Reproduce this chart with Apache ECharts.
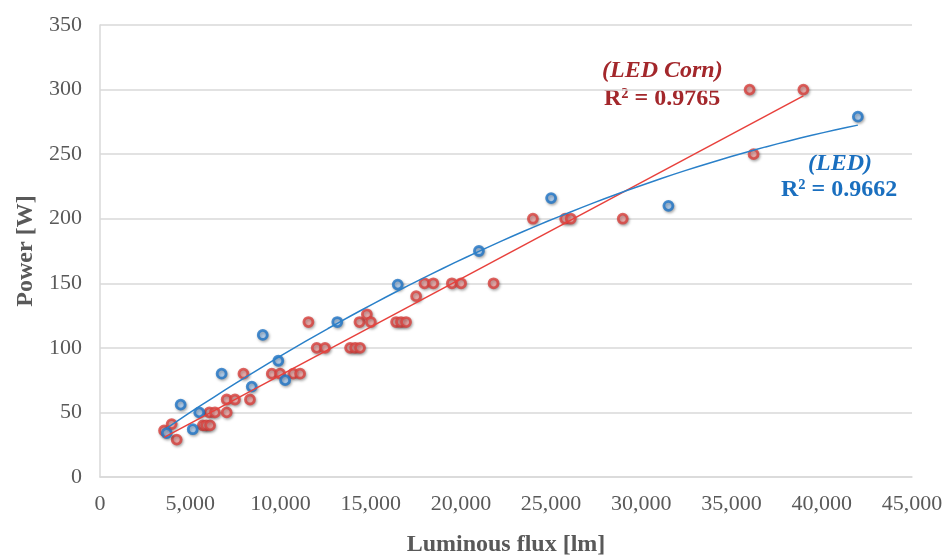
<!DOCTYPE html>
<html>
<head>
<meta charset="utf-8">
<title>Power vs Luminous flux</title>
<script src="https://cdn.jsdelivr.net/npm/echarts@6/dist/echarts.min.js"></script>
<style>
  html, body { margin: 0; padding: 0; background: #ffffff; }
  #chart { width: 950px; height: 557px; }
</style>
</head>
<body>
<div id="chart"></div>
<script>
// LED Corn lamps: luminous flux [lm] and power [W]
var cornFlux = [3550, 3970, 4250, 5700, 5880, 6100, 6060, 6370, 7020, 7020, 7480, 8310,
  7950, 9520, 9980, 10710, 11090, 11550, 12010, 12470, 13860, 14140, 14410,
  14380, 14790, 15010, 16410, 16680, 16960, 17520, 17980, 18470, 19500, 20010,
  21810, 23990, 25780, 26090, 28970, 36000, 36220, 38980];
var cornPower = [36, 41, 29, 40, 40, 40, 50, 50, 50, 60, 60, 60,
  80, 80, 80, 80, 80, 120, 100, 100, 100, 100, 100,
  120, 126, 120, 120, 120, 120, 140, 150, 150, 150, 150,
  150, 200, 200, 200, 200, 300, 250, 300];

// LED lamps: luminous flux [lm] and power [W]
var ledFlux = [3700, 4470, 5140, 5500, 6740, 8410, 9020, 9880, 10260, 13150, 16500, 21000, 25000, 31500, 42000];
var ledPower = [34, 56, 37, 50, 80, 70, 110, 90, 75, 120, 149, 175, 216, 210, 279];

// Axis ticks
var xTicks = [0, 5000, 10000, 15000, 20000, 25000, 30000, 35000, 40000, 45000];
var yTicks = [0, 50, 100, 150, 200, 250, 300, 350];

// Trendline labels
var cornLabel = '(LED Corn)';
var cornR2 = 'R² = 0.9765';
var ledLabel = '(LED)';
var ledR2 = 'R² = 0.9662';

// Least-squares polynomial fit (normal equations)
function polyfit(xs, ys, order) {
  var n = order + 1, A = [], b = [];
  for (var i = 0; i < n; i++) {
    A.push(new Array(n).fill(0));
    b.push(0);
  }
  for (var k = 0; k < xs.length; k++) {
    var x = xs[k] / 1000, y = ys[k];
    for (var i = 0; i < n; i++) {
      b[i] += y * Math.pow(x, i);
      for (var j = 0; j < n; j++) A[i][j] += Math.pow(x, i + j);
    }
  }
  for (var c = 0; c < n; c++) {
    var p = c;
    for (var r = c + 1; r < n; r++) if (Math.abs(A[r][c]) > Math.abs(A[p][c])) p = r;
    var t = A[c]; A[c] = A[p]; A[p] = t;
    var tb = b[c]; b[c] = b[p]; b[p] = tb;
    for (var r = c + 1; r < n; r++) {
      var f = A[r][c] / A[c][c];
      for (var j = c; j < n; j++) A[r][j] -= f * A[c][j];
      b[r] -= f * b[c];
    }
  }
  var coef = new Array(n).fill(0);
  for (var i = n - 1; i >= 0; i--) {
    var s = b[i];
    for (var j = i + 1; j < n; j++) s -= A[i][j] * coef[j];
    coef[i] = s / A[i][i];
  }
  return function (xv) {
    var x = xv / 1000, v = 0;
    for (var i = 0; i < n; i++) v += coef[i] * Math.pow(x, i);
    return v;
  };
}

// Fitted trendline sampled across the data's flux range
function trend(xs, ys, order, steps) {
  var f = polyfit(xs, ys, order);
  var lo = Math.min.apply(null, xs), hi = Math.max.apply(null, xs);
  var pts = [];
  for (var i = 0; i <= steps; i++) {
    var x = lo + (hi - lo) * i / steps;
    pts.push([x, f(x)]);
  }
  return pts;
}

function zip(xs, ys) {
  return xs.map(function (x, i) { return [x, ys[i]]; });
}

var cornTrend = trend(cornFlux, cornPower, 1, 1);
var ledTrend = trend(ledFlux, ledPower, 2, 60);

var serif = '"Liberation Serif", "Times New Roman", serif';
var gray = '#595959';
var gridGray = '#d9d9d9';

var chart = echarts.init(document.getElementById('chart'), null, { renderer: 'canvas' });

function markerStyle(fill, ring) {
  return {
    color: fill,
    borderColor: ring,
    borderWidth: 2.8,
    shadowBlur: 3,
    shadowColor: 'rgba(0,0,0,0.35)',
    shadowOffsetX: 1,
    shadowOffsetY: 1.5
  };
}

chart.setOption({
  animation: false,
  backgroundColor: '#ffffff',
  grid: { left: 100, right: 38, top: 25, bottom: 80, outerBoundsMode: 'none', containLabel: false },
  xAxis: {
    type: 'value',
    min: xTicks[0],
    max: xTicks[xTicks.length - 1],
    interval: xTicks[1] - xTicks[0],
    name: 'Luminous flux [lm]',
    nameLocation: 'middle',
    nameGap: 56,
    nameTextStyle: { fontFamily: serif, fontSize: 24, fontWeight: 'bold', color: gray },
    axisLine: { show: true, lineStyle: { color: gridGray, width: 1.5 } },
    axisTick: { show: false },
    splitLine: { show: false },
    axisLabel: {
      fontFamily: serif, fontSize: 22, color: gray, margin: 16,
      formatter: function (v) { return v.toLocaleString('en-US'); }
    }
  },
  yAxis: {
    type: 'value',
    min: yTicks[0],
    max: yTicks[yTicks.length - 1],
    interval: yTicks[1] - yTicks[0],
    name: 'Power [W]',
    nameLocation: 'middle',
    nameGap: 62,
    nameTextStyle: { fontFamily: serif, fontSize: 24, fontWeight: 'bold', color: gray },
    axisLine: { show: true, lineStyle: { color: gridGray, width: 1.5 } },
    axisTick: { show: false },
    splitLine: { show: true, lineStyle: { color: gridGray, width: 1.5 } },
    axisLabel: { fontFamily: serif, fontSize: 22, color: gray, margin: 18 }
  },
  series: [
    {
      name: 'LED Corn',
      type: 'scatter',
      data: zip(cornFlux, cornPower),
      symbol: 'circle',
      symbolSize: 9,
      itemStyle: markerStyle('#f5a9a8', '#d8413d'),
      z: 2
    },
    {
      name: 'LED',
      type: 'scatter',
      data: zip(ledFlux, ledPower),
      symbol: 'circle',
      symbolSize: 9,
      itemStyle: markerStyle('#acd0f5', '#1f74c6'),
      z: 3
    },
    {
      name: 'LED Corn trend',
      type: 'line',
      data: cornTrend,
      showSymbol: false,
      symbol: 'none',
      lineStyle: { color: '#e8413c', width: 1.5 },
      z: 4
    },
    {
      name: 'LED trend',
      type: 'line',
      data: ledTrend,
      showSymbol: false,
      symbol: 'none',
      smooth: false,
      lineStyle: { color: '#2a80c9', width: 1.5 },
      z: 4
    }
  ],
  graphic: [
    {
      type: 'text', left: 602, top: 59,
      style: { text: cornLabel, fontFamily: serif, fontSize: 24, fontWeight: 'bold', fontStyle: 'italic', fill: '#a3272b' }
    },
    {
      type: 'text', left: 604, top: 87,
      style: { text: cornR2, fontFamily: serif, fontSize: 24, fontWeight: 'bold', fill: '#a3272b' }
    },
    {
      type: 'text', left: 808, top: 152,
      style: { text: ledLabel, fontFamily: serif, fontSize: 24, fontWeight: 'bold', fontStyle: 'italic', fill: '#1a6fbf' }
    },
    {
      type: 'text', left: 781, top: 178,
      style: { text: ledR2, fontFamily: serif, fontSize: 24, fontWeight: 'bold', fill: '#1a6fbf' }
    }
  ]
});
</script>
</body>
</html>
